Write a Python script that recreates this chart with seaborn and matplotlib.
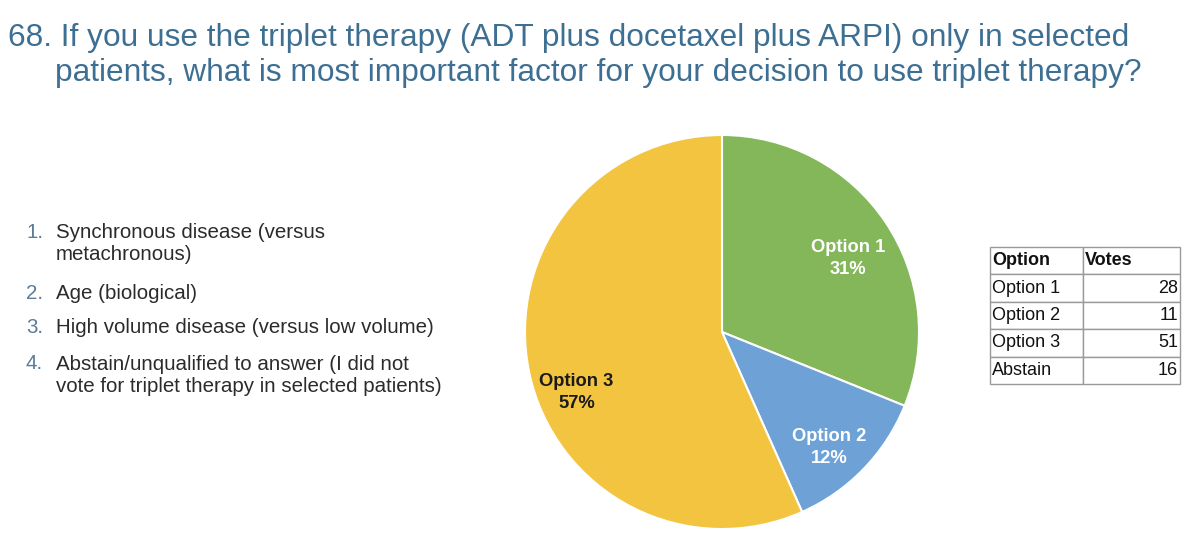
import numpy as np
import matplotlib
matplotlib.use("Agg")
import matplotlib.pyplot as plt
import seaborn as sns

# data
options = ["Option 1", "Option 2", "Option 3"]
votes = [28, 11, 51]
table_rows = ["Option 1", "Option 2", "Option 3", "Abstain"]
table_votes = [28, 11, 51, 16]
answers = [
    "Synchronous disease (versus\nmetachronous)",
    "Age (biological)",
    "High volume disease (versus low volume)",
    "Abstain/unqualified to answer (I did not\nvote for triplet therapy in selected patients)",
]
title_lines = [
    "68. If you use the triplet therapy (ADT plus docetaxel plus ARPI) only in selected",
    "patients, what is most important factor for your decision to use triplet therapy?",
]

sns.set_theme(style="white")
plt.rcParams["font.family"] = ["Liberation Sans", "DejaVu Sans"]

colors = ["#84B65A", "#6EA2D6", "#F2C43F"]
label_colors = ["white", "white", "#1a1a1a"]
W, H = 1200, 549
fig = plt.figure(figsize=(W / 100, H / 100), dpi=100)
fig.patch.set_facecolor("white")

# title
title_color = "#3D6F93"
fig.text(8 / W, 1 - 46 / H, title_lines[0], fontsize=22.8, color=title_color, va="baseline")
fig.text(55 / W, 1 - 81 / H, title_lines[1], fontsize=22.8, color=title_color, va="baseline")

# numbered list (first line of each item sits on the same baseline as its number)
ys = [238, 299, 333, 369]
for i, (txt, y) in enumerate(zip(answers, ys)):
    fig.text(26 / W, 1 - y / H, f"{i + 1}.", fontsize=14.8, color="#5B7C98", va="baseline")
    n_extra = txt.count("\n")
    # multiline 'baseline' anchors on the last line, so push it down
    fig.text(56 / W, 1 - (y + 22.5 * n_extra) / H, txt, fontsize=14.8, color="#2b2b2b",
             va="baseline", linespacing=1.2)

# pie
cx, cy, r = 722, 332, 197
ax = fig.add_axes([(cx - r) / W, (H - cy - r) / H, 2 * r / W, 2 * r / H])
wedges, _ = ax.pie(votes, colors=colors, startangle=90, counterclock=False,
                   wedgeprops=dict(edgecolor="white", linewidth=1.5))
total = sum(votes)
dists = [0.74, 0.80, 0.80]
shifts = [-3.6, -3.0, 10.5]
for w, name, v, c, d, s in zip(wedges, options, votes, label_colors, dists, shifts):
    ang = np.deg2rad((w.theta1 + w.theta2) / 2 + s)
    ax.text(d * np.cos(ang), d * np.sin(ang), f"{name}\n{round(100 * v / total)}%",
            ha="center", va="center", fontsize=13.2, fontweight="bold", color=c,
            linespacing=1.35)
ax.set_aspect("equal")
ax.set_xlim(-1, 1)
ax.set_ylim(-1, 1)
ax.axis("off")

# votes table
tx0, tx1, ty0, ty1 = 990, 1180, 247, 384
tax = fig.add_axes([tx0 / W, (H - ty1) / H, (tx1 - tx0) / W, (ty1 - ty0) / H])
tax.axis("off")
cells = [[n, str(v)] for n, v in zip(table_rows, table_votes)]
tbl = tax.table(cellText=cells, colLabels=["Option", "Votes"], bbox=[0, 0, 1, 1],
                colWidths=[0.49, 0.51], cellLoc="left", colLoc="left")
tbl.auto_set_font_size(False)
for (row, col), cell in tbl.get_celld().items():
    cell.set_edgecolor("#9a9a9a")
    cell.set_linewidth(1.0)
    cell.PAD = 0.02
    cell.get_text().set_fontsize(13)
    cell.get_text().set_color("#111111")
    if row == 0:
        cell.get_text().set_fontweight("bold")
    elif col == 1:
        cell.get_text().set_ha("right")
        cell._loc = "right"

fig.savefig("out.png", dpi=100, facecolor="white")
